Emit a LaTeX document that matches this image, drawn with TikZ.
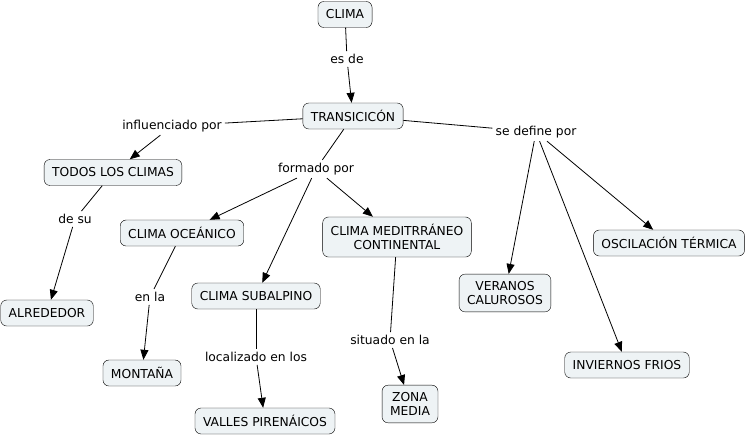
\documentclass[tikz,border=0pt]{standalone}
\usepackage{fontspec}
\setmainfont{DejaVu Sans}
\usetikzlibrary{arrows.meta}
\definecolor{conceptfill}{HTML}{EEF3F5}
\begin{document}
\begin{tikzpicture}[x=1pt,y=-1pt]

% definitions
\tikzstyle{concept} = [rectangle, rounded corners=6pt, minimum height=26pt, inner xsep=8pt, inner ysep=7pt, align=center, draw=black, fill=conceptfill, font=\fontsize{12.3}{14.5}\selectfont]

\tikzstyle{linking} = [rectangle, inner sep=3pt, align=center, font=\fontsize{12.3}{14.5}\selectfont]

\tikzstyle{line} = [line width=0.8pt]

\tikzstyle{arrow} = [line width=0.8pt, ->, >={Triangle[length=10pt,width=8pt]}]

\useasboundingbox (0,0) rectangle (749,439);

% the graph
\node (clima) [concept] at (345,14.5) {CLIMA};

\node (esde) [linking] at (347,59) {es de};

\node (transicion) [concept] at (353,116) {TRANSICICÓN};

\node (influenciado) [linking] at (172,126) {influenciado por};

\node (define) [linking] at (536,132) {se define por};

\node (todos) [concept] at (113,172.5) {TODOS LOS CLIMAS};

\node (formado) [linking] at (316,169) {formado por};

\node (desu) [linking] at (75,219) {de su};

\node (oceanico) [concept] at (182,233) {CLIMA OCEÁNICO};

\node (mediterraneo) [concept] at (397,237) {CLIMA MEDITRRÁNEO\\CONTINENTAL};

\node (oscilacion) [concept] at (669,243) {OSCILACIÓN TÉRMICA};

\node (veranos) [concept] at (505,293) {VERANOS\\CALUROSOS};

\node (subalpino) [concept] at (256,296) {CLIMA SUBALPINO};

\node (alrededor) [concept] at (47,313) {ALREDEDOR};

\node (enla) [linking] at (150,297) {en la};

\node (situado) [linking] at (390,340) {situado en la};

\node (localizado) [linking] at (256,357) {localizado en los};

\node (montana) [concept] at (142,373) {MONTAÑA};

\node (inviernos) [concept] at (627,365) {INVIERNOS FRIOS};

\node (zona) [concept] at (410,404) {ZONA\\MEDIA};

\node (valles) [concept] at (265,421) {VALLES PIRENÁICOS};

\draw [line] (clima) -- (esde);
\draw [arrow] (esde) -- (transicion);
\draw [line] (transicion) -- (influenciado);
\draw [arrow] (influenciado) -- (todos);
\draw [line] (transicion) -- (formado);
\draw [arrow] (formado) -- (oceanico);
\draw [arrow] (formado) -- (subalpino);
\draw [arrow] (formado) -- (mediterraneo);
\draw [line] (transicion) -- (define);
\draw [arrow] (define) -- (veranos);
\draw [arrow] (define) -- (inviernos);
\draw [arrow] (define) -- (oscilacion);
\draw [line] (todos) -- (desu);
\draw [arrow] (desu) -- (alrededor);
\draw [line] (oceanico) -- (enla);
\draw [arrow] (enla) -- (montana);
\draw [line] (subalpino) -- (localizado);
\draw [arrow] (localizado) -- (valles);
\draw [line] (mediterraneo) -- (situado);
\draw [arrow] (situado) -- (zona);

\end{tikzpicture}
\end{document}
